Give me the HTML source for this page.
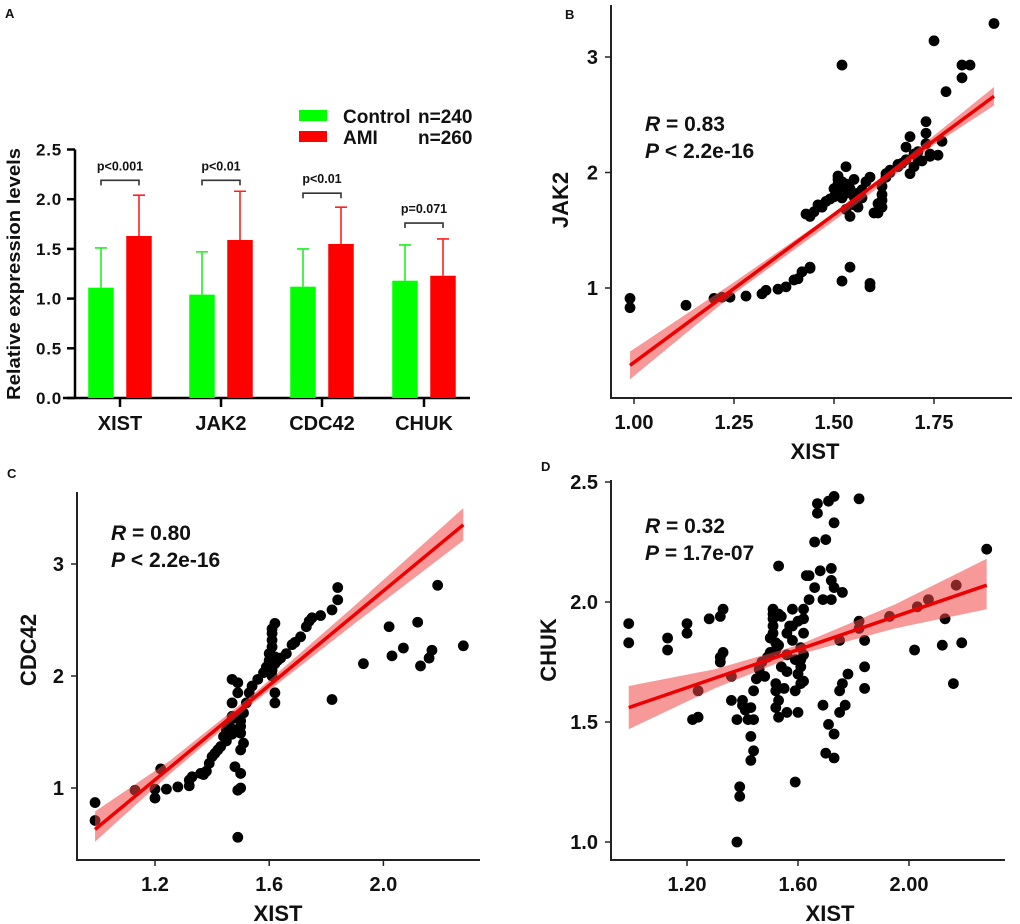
<!DOCTYPE html>
<html><head><meta charset="utf-8"><style>
html,body{margin:0;padding:0;background:#fff;}
svg{display:block;font-family:"Liberation Sans",Arial,sans-serif;}
text{font-weight:bold;fill:#111;}
</style></head><body>
<svg id="fig" width="1020" height="924" viewBox="0 0 1020 924" xmlns="http://www.w3.org/2000/svg">
<g id="pA"></g>
<g id="pB"></g>
<g id="pC"></g>
<g id="pD"></g>
</svg>
<script>
// ---------- Panel A data ----------
const genes = ["XIST","JAK2","CDC42","CHUK"];
const controlMeans = [1.11,1.04,1.12,1.18];
const amiMeans = [1.63,1.59,1.55,1.23];
const controlErrTop = [1.51,1.47,1.50,1.54];
const amiErrTop = [2.04,2.08,1.92,1.60];
const pLabels = ["p<0.001","p<0.01","p<0.01","p=0.071"];
const bracketLevels = [2.19,2.19,2.06,1.76];
const aTicks = ["0.0","0.5","1.0","1.5","2.0","2.5"];

// ---------- Panel B data ----------
const bX = [0.99,0.99,1.13,1.20,1.22,1.24,1.28,1.32,1.33,1.36,1.38,1.40,1.41,1.42,1.44,1.44,1.44,1.45,1.47,1.48,1.50,1.51,1.51,1.52,1.53,1.53,1.53,1.54,1.55,1.56,1.56,1.56,1.57,1.58,1.59,1.60,1.61,1.61,1.62,1.62,1.63,1.64,1.66,1.68,1.68,1.69,1.69,1.70,1.72,1.73,1.73,1.73,1.74,1.76,1.77,1.78,1.82,1.82,1.84,1.75,1.90,1.52,1.52,1.54,1.59,1.59,1.51,1.52,1.50,1.55,1.63,1.66,1.71,1.46,1.51,1.52,1.53,1.54,1.55,1.57,1.62,1.62,1.64,1.67,1.70,1.71,1.74,1.43,1.49];
const bY = [0.91,0.83,0.85,0.91,0.92,0.92,0.93,0.95,0.98,0.99,1.01,1.07,1.08,1.14,1.17,1.18,1.62,1.66,1.70,1.75,1.79,1.84,1.94,1.88,1.82,2.05,1.68,1.62,1.94,1.82,1.70,1.76,1.85,1.92,1.96,1.65,1.65,1.73,1.81,1.88,1.96,2.02,2.07,2.11,2.22,2.31,1.99,2.05,2.10,2.34,2.44,2.25,2.14,2.15,2.27,2.70,2.82,2.93,2.93,3.14,3.29,2.93,1.06,1.18,1.04,1.01,1.90,1.78,1.86,1.72,1.99,2.05,2.12,1.72,1.97,1.92,1.90,1.86,1.79,1.78,1.76,1.70,2.00,2.08,2.16,2.18,2.16,1.64,1.77];
const bTicksX = [1.00,1.25,1.50,1.75];
const bTicksY = [1,2,3];
const bFitX = [0.99,1.90];
const bFitY = [0.33,2.66];
const bBandX = [0.99,1.25,1.55,1.75,1.90];
const bBandLo = [0.21,0.95,1.71,2.24,2.58];
const bBandHi = [0.45,1.05,1.77,2.32,2.74];

// ---------- Panel C data ----------
const cX = [0.99,0.99,1.13,1.20,1.20,1.22,1.24,1.28,1.32,1.32,1.33,1.36,1.38,1.39,1.41,1.43,1.44,1.45,1.46,1.47,1.47,1.49,1.47,1.49,1.48,1.50,1.50,1.50,1.49,1.49,1.50,1.51,1.52,1.53,1.54,1.56,1.58,1.59,1.60,1.61,1.61,1.62,1.62,1.62,1.62,1.66,1.68,1.71,1.73,1.75,1.78,1.82,1.84,1.84,1.82,1.93,2.02,2.03,2.07,2.12,2.13,2.16,2.17,2.19,2.28,1.61,1.60,1.61,1.50,1.51,1.42,1.40,1.61,1.62,1.60,1.61,1.63,1.64,1.69,1.74,1.50,1.49,1.48,1.47,1.45,1.37];
const cY = [0.87,0.71,0.98,0.99,0.91,1.17,0.99,1.01,1.02,1.07,1.10,1.13,1.15,1.22,1.31,1.37,1.46,1.52,1.58,1.64,1.97,1.94,1.76,1.85,1.19,1.13,1.34,1.00,0.98,0.56,1.49,1.67,1.76,1.85,1.91,1.97,2.03,2.08,2.14,2.26,2.38,2.47,1.85,1.76,2.11,2.20,2.28,2.35,2.44,2.52,2.54,2.59,2.68,2.79,1.79,2.11,2.44,2.18,2.25,2.48,2.09,2.16,2.23,2.81,2.27,2.32,2.20,2.05,1.60,1.40,1.34,1.28,2.42,2.17,2.12,2.00,2.14,2.16,2.30,2.49,1.55,1.62,1.52,1.48,1.42,1.12];
const cTicksX = [1.2,1.6,2.0];
const cTicksY = [1,2,3];
const cFitX = [0.99,2.28];
const cFitY = [0.63,3.35];
const cBandX = [0.99,1.25,1.55,1.90,2.28];
const cBandLo = [0.52,1.12,1.77,2.47,3.21];
const cBandHi = [0.79,1.24,1.85,2.63,3.50];

// ---------- Panel D data ----------
const dX = [0.99,0.99,1.13,1.13,1.20,1.20,1.28,1.32,1.33,1.32,1.33,1.32,1.36,1.24,1.22,1.24,1.36,1.38,1.40,1.42,1.43,1.44,1.43,1.44,1.43,1.39,1.39,1.38,1.44,1.45,1.46,1.47,1.49,1.50,1.51,1.51,1.51,1.52,1.52,1.52,1.52,1.53,1.53,1.53,1.54,1.54,1.56,1.56,1.56,1.56,1.57,1.58,1.59,1.60,1.59,1.60,1.61,1.61,1.62,1.62,1.62,1.64,1.63,1.64,1.66,1.66,1.67,1.67,1.68,1.69,1.69,1.70,1.70,1.71,1.71,1.72,1.72,1.72,1.73,1.73,1.73,1.73,1.73,1.75,1.75,1.76,1.76,1.75,1.77,1.78,1.82,1.82,1.82,1.84,1.84,1.84,1.93,2.02,2.03,2.07,2.12,2.13,2.16,2.17,2.19,2.28,1.50,1.53,1.58,1.61,1.51,1.51,1.52,1.53,1.58,1.59,1.61,1.62,1.62,1.60,1.55,1.48,1.41,1.40];
const dY = [1.91,1.83,1.85,1.80,1.91,1.87,1.93,1.94,1.97,1.77,1.79,1.75,1.69,1.63,1.51,1.52,1.59,1.51,1.57,1.51,1.56,1.51,1.44,1.38,1.34,1.23,1.19,1.00,1.63,1.68,1.72,1.75,1.77,1.79,1.97,1.87,1.93,1.83,1.66,1.63,1.56,2.15,1.59,1.52,1.73,1.94,1.54,1.78,1.71,1.87,1.90,1.97,1.63,1.54,1.25,1.70,1.76,1.81,1.87,1.93,1.97,2.01,2.11,2.11,2.06,2.25,2.37,2.41,2.13,2.01,1.57,2.26,1.37,1.49,2.42,2.09,2.14,2.01,2.44,2.33,1.45,1.35,2.06,1.84,1.63,1.66,2.04,1.54,1.57,1.70,2.43,1.92,1.89,1.84,1.73,1.64,1.94,1.80,1.98,2.01,1.82,1.93,1.66,2.07,1.83,2.22,1.85,1.82,1.90,1.66,1.95,1.90,1.80,1.95,1.84,1.76,1.73,1.67,1.78,1.92,1.64,1.69,1.55,1.59];
const dTicksX = [1.20,1.60,2.00];
const dTicksY = [1.0,1.5,2.0,2.5];
const dFitX = [0.99,2.28];
const dFitY = [1.56,2.07];
const dBandX = [0.99,1.30,1.60,1.95,2.28];
const dBandLo = [1.47,1.64,1.78,1.89,1.97];
const dBandHi = [1.65,1.72,1.82,1.99,2.18];

const NS = "http://www.w3.org/2000/svg";
function mk(parent, tag, attrs, txt){
  const e = document.createElementNS(NS, tag);
  for (const k in attrs) e.setAttribute(k, attrs[k]);
  if (txt !== undefined) e.textContent = txt;
  parent.appendChild(e);
  return e;
}

// ---------- Panel A ----------
(function(){
  const g = document.getElementById('pA');
  const y0 = 398, pxPer = 99.4, axX = 75;
  const yA = v => y0 - v*pxPer;
  const centers = [120,221,322,424];
  const bw = 25.5, off = 19;
  let t = mk(g,'text',{x:5,y:18,'font-size':13}, 'A');
   
  let ax = mk(g,'line',{x1:axX,y1:yA(2.5),x2:axX,y2:y0,stroke:'#000','stroke-width':2.5});
   
  aTicks.forEach(s=>{
    const v = parseFloat(s);
    mk(g,'line',{x1:axX-8,y1:yA(v),x2:axX,y2:yA(v),stroke:'#000','stroke-width':2.5});
    const tl = mk(g,'text',{x:axX-13,y:yA(v)+6,'font-size':17,'text-anchor':'end','letter-spacing':'0.8'}, s);
     
  });
  let xa = mk(g,'line',{x1:63,y1:y0,x2:470,y2:y0,stroke:'#000','stroke-width':2.5});
   
  let yt = mk(g,'text',{transform:'translate(20,274) rotate(-90)','font-size':18,'text-anchor':'middle',textLength:252,lengthAdjust:'spacingAndGlyphs'},'Relative expression levels');
   
  genes.forEach((name,i)=>{
    const c = centers[i];
    mk(g,'line',{x1:c,y1:y0,x2:c,y2:y0+9,stroke:'#000','stroke-width':2.5});
    const xl = mk(g,'text',{x:c,y:430,'font-size':20,'text-anchor':'middle'}, name);
     
    const gx = c-off, rx = c+off;
    const e1 = mk(g,'path',{d:`M${gx} ${yA(controlMeans[i])}V${yA(controlErrTop[i])}M${gx-6} ${yA(controlErrTop[i])}H${gx+6}`,stroke:'#22ee22','stroke-width':1.6,fill:'none'});
     
    const e2 = mk(g,'path',{d:`M${rx} ${yA(amiMeans[i])}V${yA(amiErrTop[i])}M${rx-6} ${yA(amiErrTop[i])}H${rx+6}`,stroke:'#ff2020','stroke-width':1.6,fill:'none'});
     
    const b1 = mk(g,'rect',{x:gx-bw/2,y:yA(controlMeans[i]),width:bw,height:controlMeans[i]*pxPer,fill:'#00ff00'});
     
    const b2 = mk(g,'rect',{x:rx-bw/2,y:yA(amiMeans[i]),width:bw,height:amiMeans[i]*pxPer,fill:'#ff0000'});
     
    const by = yA(bracketLevels[i]);
    const br = mk(g,'path',{d:`M${gx} ${by+5}V${by}H${rx}V${by+5}`,stroke:'#333','stroke-width':1.6,fill:'none'});
     
    const pl = mk(g,'text',{x:c,y:by-10,'font-size':12.5,'text-anchor':'middle'}, pLabels[i]);
     
  });
  const l1 = mk(g,'rect',{x:299,y:110,width:28,height:11,fill:'#00ff00'});
   
  const l2 = mk(g,'rect',{x:299,y:131,width:28,height:11,fill:'#ff0000'});
   
  const lt1 = mk(g,'text',{x:343,y:123,'font-size':19},'Control');
   
  const lt2 = mk(g,'text',{x:343,y:144,'font-size':19},'AMI');
   
  const n1 = mk(g,'text',{x:418,y:123,'font-size':19},'n=240');
   
  const n2 = mk(g,'text',{x:418,y:144,'font-size':19},'n=260');
   
})();

// ---------- Scatter panels ----------
function scatter(o){
  const g = document.getElementById(o.id);
  const sx = v => o.x0px + (v - o.x0)*o.xScale;
  const sy = v => o.y0px - (v - o.y0)*o.yScale;
  const pl = mk(g,'text',{x:o.lab[0],y:o.lab[1],'font-size':13}, o.label);
   
  const axes = mk(g,'path',{d:`M${o.axL} ${o.axT}V${o.axB}H${o.axR}`,stroke:'#222','stroke-width':2,fill:'none'});
   
  o.tx.forEach((v,i)=>{
    const x = sx(v);
    mk(g,'line',{x1:x,y1:o.axB,x2:x,y2:o.axB+6,stroke:'#222','stroke-width':1.5});
    const t = mk(g,'text',{x:x,y:o.axB+31,'font-size':20,'text-anchor':'middle'}, o.txL[i]);
     
  });
  o.ty.forEach((v,i)=>{
    const y = sy(v);
    mk(g,'line',{x1:o.axL-6,y1:y,x2:o.axL,y2:y,stroke:'#222','stroke-width':1.5});
    const t = mk(g,'text',{x:o.axL-13,y:y+7,'font-size':20,'text-anchor':'end'}, o.tyL[i]);
     
  });
  const xt = mk(g,'text',{x:o.xtitle[0],y:o.xtitle[1],'font-size':22,'text-anchor':'middle'},'XIST');
   
  const yt = mk(g,'text',{transform:`translate(${o.ytitle[0]},${o.ytitle[1]}) rotate(-90)`,'font-size':22,'text-anchor':'middle'},o.yname);
   
  o.xs.forEach((v,i)=>{
    const c = mk(g,'circle',{cx:sx(v),cy:sy(o.ys[i]),r:5.4,fill:'#000'});
     
  });
  let pts = o.bx.map((v,i)=>sx(v)+','+sy(o.bhi[i]));
  pts = pts.concat(o.bx.slice().reverse().map((v,i)=>sx(v)+','+sy(o.blo[o.bx.length-1-i])));
  const band = mk(g,'polygon',{points:pts.join(' '),fill:'rgba(240,70,70,0.55)'});
   
  const fl = mk(g,'line',{x1:sx(o.fx[0]),y1:sy(o.fy[0]),x2:sx(o.fx[1]),y2:sy(o.fy[1]),stroke:'#ee0000','stroke-width':3.5});
   
  const r = mk(g,'text',{x:o.stat[0],y:o.stat[1],'font-size':21});
  mk(r,'tspan',{'font-style':'italic'},'R'); mk(r,'tspan',{},' = '+o.rtxt);
   
  const p = mk(g,'text',{x:o.stat[0],y:o.stat[1]+27,'font-size':21});
  mk(p,'tspan',{'font-style':'italic'},'P'); mk(p,'tspan',{},o.ptxt);
   
}

scatter({id:'pB',label:'B',lab:[565,19],axL:611,axT:5,axB:398,axR:1012,
  x0:1.0,x0px:634,xScale:400,y0:1,y0px:288,yScale:115.5,
  tx:bTicksX,txL:["1.00","1.25","1.50","1.75"],ty:bTicksY,tyL:["1","2","3"],
  xtitle:[815,459],ytitle:[568,200],yname:'JAK2',xs:bX,ys:bY,
  bx:bBandX,blo:bBandLo,bhi:bBandHi,fx:bFitX,fy:bFitY,stat:[645,131],rtxt:'0.83',ptxt:' < 2.2e-16'});
scatter({id:'pC',label:'C',lab:[7,478],axL:77,axT:492,axB:860,axR:480,
  x0:1.2,x0px:155,xScale:285.5,y0:1,y0px:788,yScale:112,
  tx:cTicksX,txL:["1.2","1.6","2.0"],ty:cTicksY,tyL:["1","2","3"],
  xtitle:[278,921],ytitle:[36,650],yname:'CDC42',xs:cX,ys:cY,
  bx:cBandX,blo:cBandLo,bhi:cBandHi,fx:cFitX,fy:cFitY,stat:[111,540],rtxt:'0.80',ptxt:' < 2.2e-16'});
scatter({id:'pD',label:'D',lab:[541,471],axL:611,axT:480,axB:860,axR:1005,
  x0:1.2,x0px:687,xScale:277.5,y0:1.0,y0px:842,yScale:240,
  tx:dTicksX,txL:["1.20","1.60","2.00"],ty:dTicksY,tyL:["1.0","1.5","2.0","2.5"],
  xtitle:[830,921],ytitle:[556,650],yname:'CHUK',xs:dX,ys:dY,
  bx:dBandX,blo:dBandLo,bhi:dBandHi,fx:dFitX,fy:dFitY,stat:[645,533],rtxt:'0.32',ptxt:' = 1.7e-07'});
</script>
</body></html>
